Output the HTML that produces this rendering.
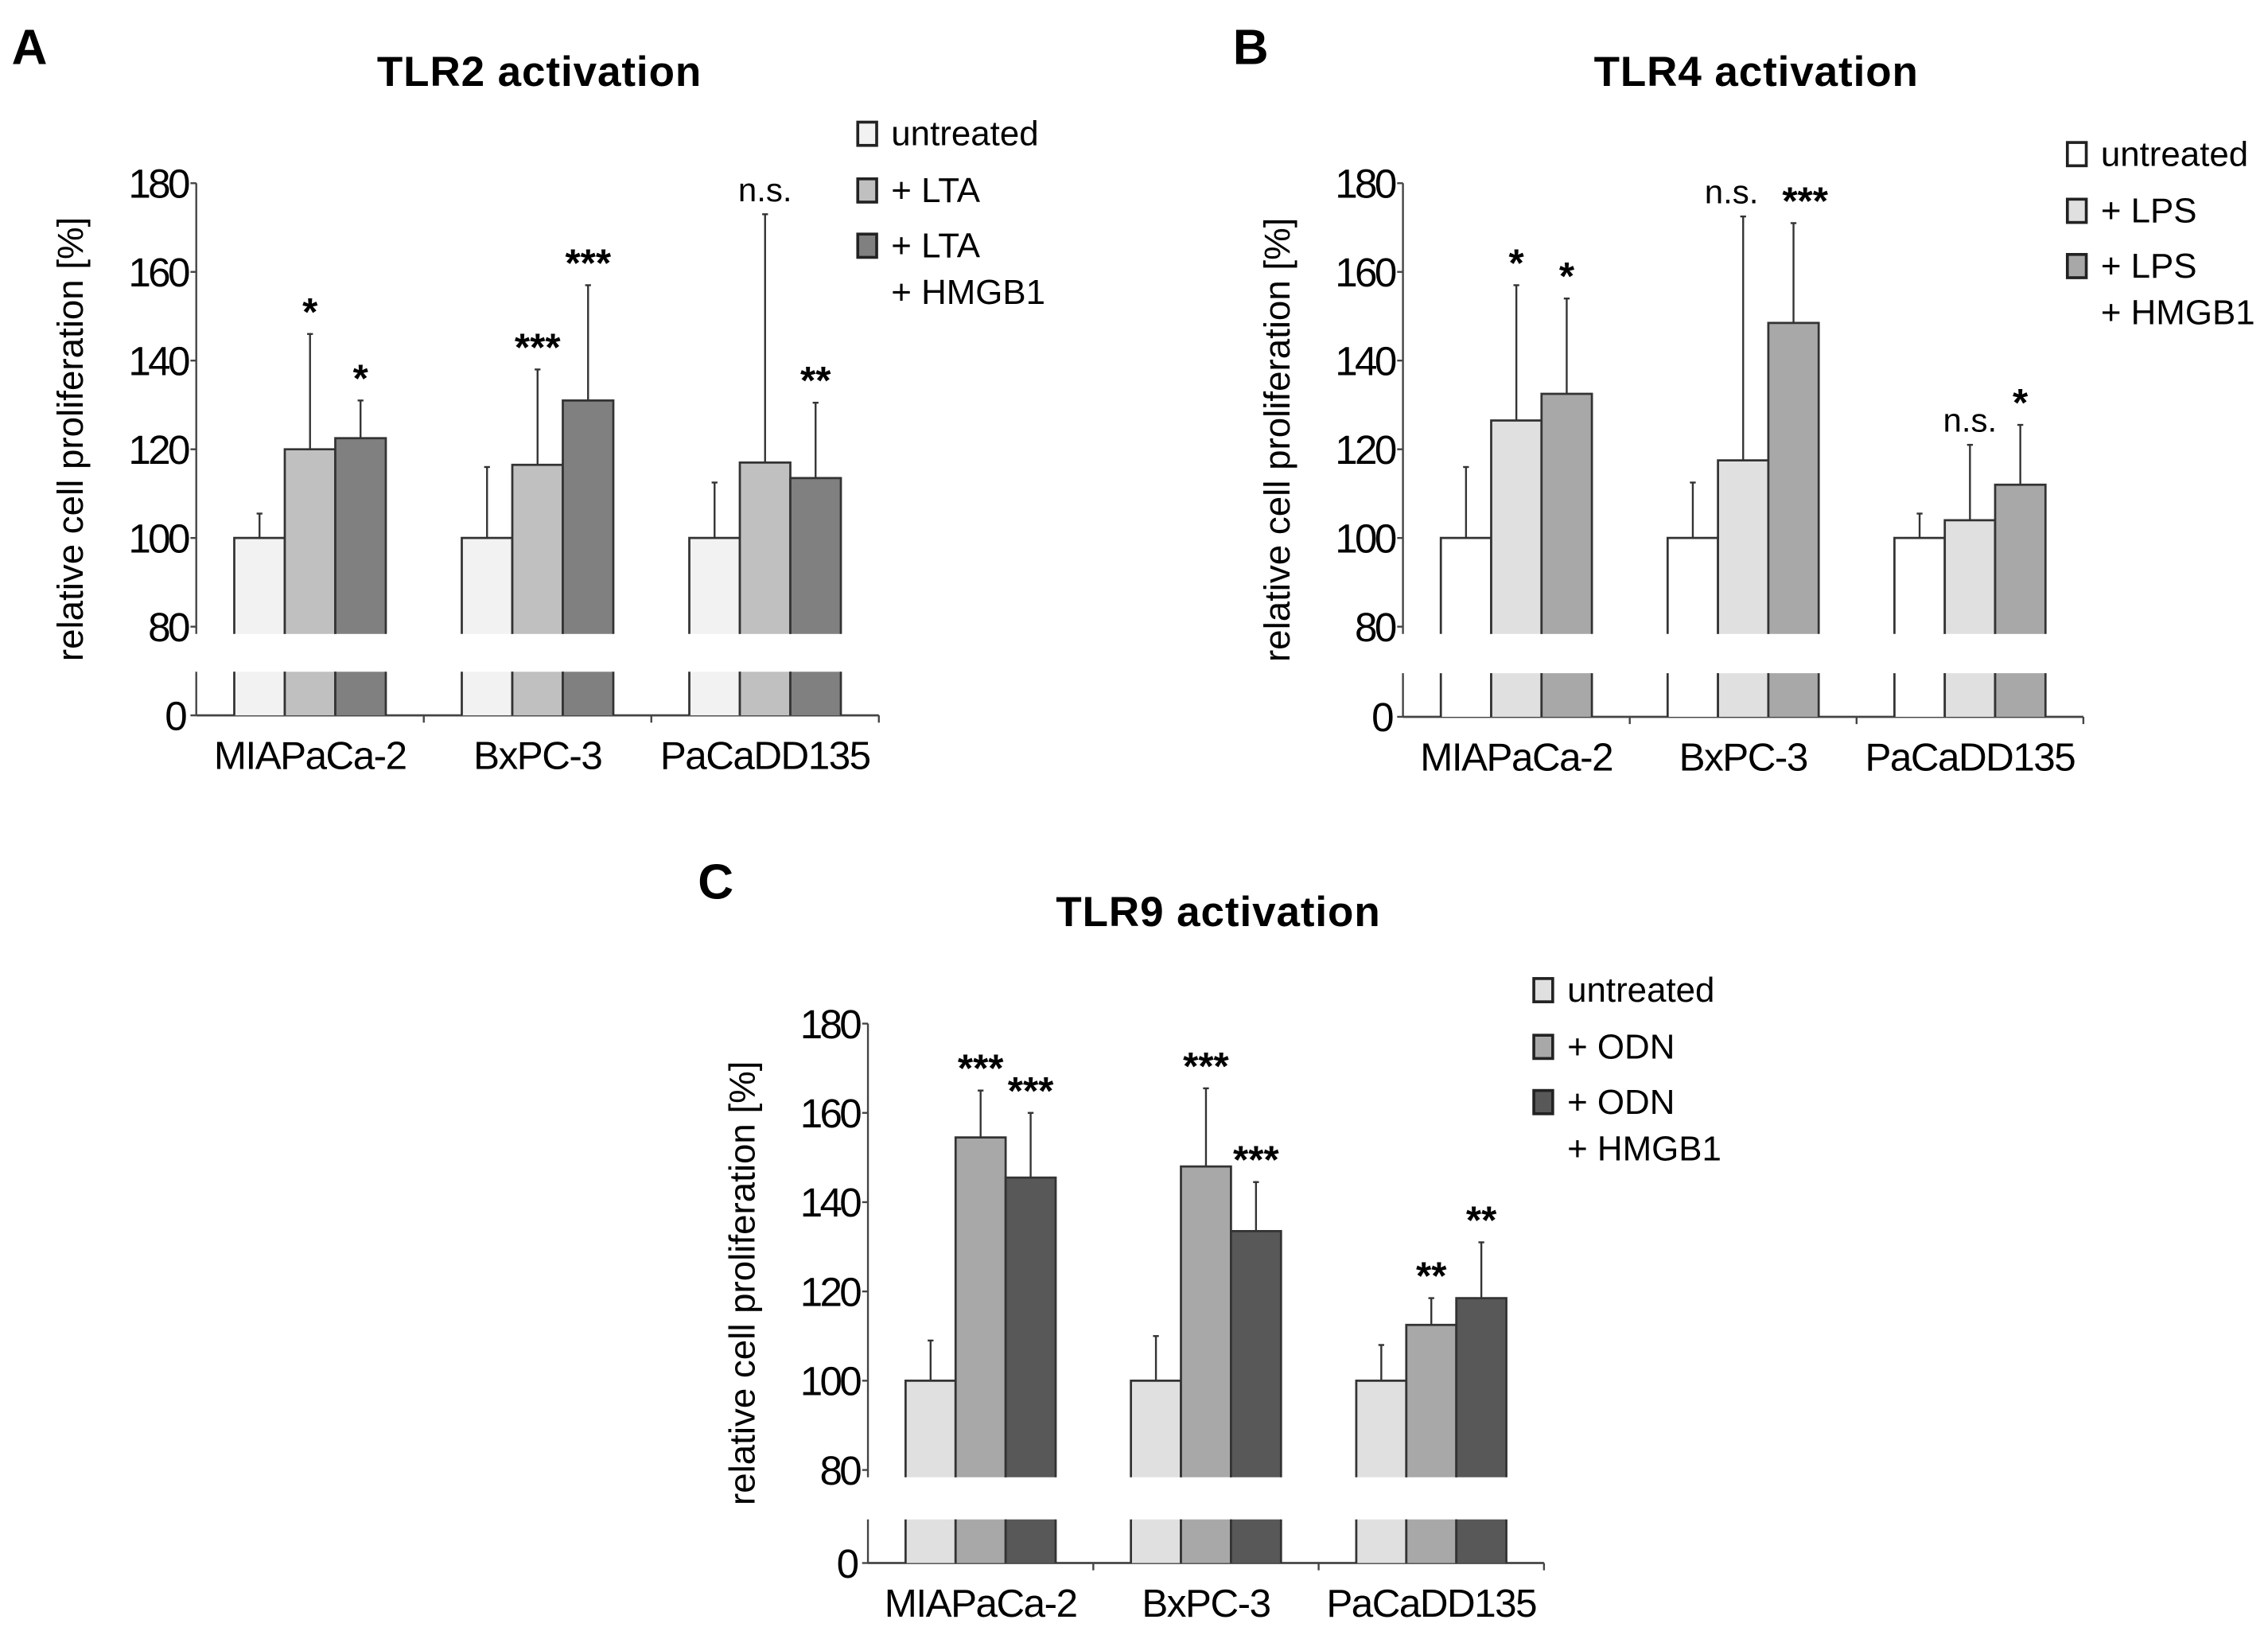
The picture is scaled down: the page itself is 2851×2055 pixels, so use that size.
<!DOCTYPE html>
<html><head><meta charset="utf-8"><style>
html,body{margin:0;padding:0;background:#fff}
svg{display:block}
text{font-family:"Liberation Sans",Arial,sans-serif;fill:#000}
</style></head><body>
<svg id="fig" width="2851" height="2055" viewBox="0 0 1560 1124.5" preserveAspectRatio="none"></svg>
<script>
const categories = ["MIAPaCa-2","BxPC-3","PaCaDD135"];
const tickValues = [80,100,120,140,160,180];
// Panel A
const aSeries = ["untreated","+ LTA","+ LTA|+ HMGB1"];
const aUntreated = [100,100,100];
const aLTA = [120,116.5,117];
const aLTAH = [122.5,131,113.5];
const aErrU = [105.5,116,112.5];
const aErrL = [146,138,173];
const aErrH = [131,157,130.5];
const aSigL = ["*","***","n.s."];
const aSigH = ["*","***","**"];
// Panel B
const bSeries = ["untreated","+ LPS","+ LPS|+ HMGB1"];
const bUntreated = [100,100,100];
const bLPS = [126.5,117.5,104];
const bLPSH = [132.5,148.5,112];
const bErrU = [116,112.5,105.5];
const bErrL = [157,172.5,121];
const bErrH = [154,171,125.5];
const bSigL = ["*","n.s.","n.s."];
const bSigH = ["*","***","*"];
// Panel C
const cSeries = ["untreated","+ ODN","+ ODN|+ HMGB1"];
const cUntreated = [100,100,100];
const cODN = [154.5,148,112.5];
const cODNH = [145.5,133.5,118.5];
const cErrU = [109,110,108];
const cErrO = [165,165.5,118.5];
const cErrH = [160,144.5,131];
const cSigO = ["***","***","**"];
const cSigH = ["***","***","**"];

const NS="http://www.w3.org/2000/svg";
const svg=document.getElementById('fig');
function mk(tag,attrs,parent,txt){const e=document.createElementNS(NS,tag);for(const k in attrs)e.setAttribute(k,attrs[k]);if(txt!==undefined)e.textContent=txt;(parent||svg).appendChild(e);return e;}

function panel(cfg){
  const g=mk('g',{});
  
  
  const ax=cfg.ax, y180=cfg.y180, y80=cfg.y80, y0=cfg.y0, brkTop=y80+5, brkBot=y0-30;
  const yS=v=>y80-(v-80)*(y80-y180)/100;
  const gw=cfg.gw, bw=gw*0.222;
  const stroke='#444';
  const L=mk('text',{x:cfg.lx,y:cfg.ly,'font-size':34,'font-weight':'bold'},g,cfg.letter);
  
  
  const T=mk('text',{x:cfg.tx,y:cfg.ty,'font-size':29,'font-weight':'bold','text-anchor':'middle','letter-spacing':0.5},g,cfg.title);
  
  
  mk('line',{x1:ax,y1:y180,x2:ax,y2:brkTop,stroke:stroke,'stroke-width':1.3},g);
  mk('line',{x1:ax,y1:brkBot,x2:ax,y2:y0,stroke:stroke,'stroke-width':1.3},g);
  tickValues.forEach(v=>{
    const y=yS(v);
    mk('line',{x1:ax-4,y1:y,x2:ax,y2:y,stroke:stroke,'stroke-width':1.3},g);
    const t=mk('text',{x:ax-6,y:y+10,'font-size':28,'text-anchor':'end','letter-spacing':-2},g,String(v));
    
    
  });
  mk('line',{x1:ax-4,y1:y0,x2:ax,y2:y0,stroke:stroke,'stroke-width':1.3},g);
  const z=mk('text',{x:ax-6,y:y0+10,'font-size':28,'text-anchor':'end'},g,'0');
  
  
  const yl=mk('text',{x:0,y:0,'font-size':25,'text-anchor':'middle',transform:`translate(${ax-78},${(y180+y0)/2-7}) rotate(-90)`},g,'relative cell proliferation [%]');
  
  
  const xEnd=ax+gw*3;
  mk('line',{x1:ax,y1:y0,x2:xEnd,y2:y0,stroke:stroke,'stroke-width':1.5},g);
  for(let i=1;i<=3;i++)mk('line',{x1:ax+gw*i,y1:y0,x2:ax+gw*i,y2:y0+5,stroke:stroke,'stroke-width':1.3},g);
  categories.forEach((c,i)=>{
    const t=mk('text',{x:ax+gw*(i+0.5),y:y0+37,'font-size':27,'text-anchor':'middle','letter-spacing':-0.8},g,c);
    
    
  });
  cfg.vals.forEach((arr,s)=>{
    arr.forEach((v,i)=>{
      const x=ax+gw*i+(gw-3*bw)/2+s*bw;
      const top=yS(v);
      const r=mk('rect',{x:x,y:top,width:bw,height:brkTop-top,fill:cfg.colors[s],stroke:'none'},g);
      
      
      mk('rect',{x:x,y:brkBot,width:bw,height:y0-brkBot,fill:cfg.colors[s],stroke:'none'},g);
      mk('path',{d:`M${x},${brkTop}V${top}H${x+bw}V${brkTop}`,fill:'none',stroke:'#333','stroke-width':1.5},g);
      mk('path',{d:`M${x},${y0}V${brkBot}M${x+bw},${y0}V${brkBot}`,fill:'none',stroke:'#333','stroke-width':1.5},g);
      const e=yS(cfg.errs[s][i]);
      const cx=x+bw/2;
      mk('line',{x1:cx,y1:top,x2:cx,y2:e,stroke:'#333','stroke-width':1.3},g);
      mk('line',{x1:cx-2,y1:e,x2:cx+2,y2:e,stroke:'#333','stroke-width':1.3},g);
      if(s>0){
        const lab=cfg.sig[s-1][i];
        const ns=lab==='n.s.';
        const st=mk('text',{x:cx+(cfg.sigDx?cfg.sigDx[s-1][i]:0),y:ns?e-9:e-6,'font-size':ns?23:27,'font-weight':ns?'normal':'bold','text-anchor':'middle'},g,lab);
        
        
      }
    });
  });
  const lg=mk('g',{},g);
  
  
  cfg.series.forEach((s,i)=>{
    const y=cfg.legY[i];
    const sq=mk('rect',{x:cfg.legX,y:y-16,width:13,height:16,fill:cfg.colors[i],stroke:'#222','stroke-width':2},lg);
    
    
    s.split('|').forEach((p,j)=>{
      const t=mk('text',{x:cfg.legX+23,y:y+j*32,'font-size':24},lg,p);
      
      
    });
  });
}

panel({name:'panel-a-tlr2',letter:'A',lx:8,ly:44,title:'TLR2 activation',tx:371,ty:59,
  ax:135,y180:126,y80:431,y0:492,gw:156.5,
  vals:[aUntreated,aLTA,aLTAH],errs:[aErrU,aErrL,aErrH],sig:[aSigL,aSigH],
  colors:['#f2f2f2','#c0c0c0','#808080'],series:aSeries,legX:590,legY:[100,139,177]});
panel({name:'panel-b-tlr4',letter:'B',lx:848,ly:44,title:'TLR4 activation',tx:1208,ty:59,
  ax:965,y180:126,y80:431,y0:493,gw:156,
  vals:[bUntreated,bLPS,bLPSH],errs:[bErrU,bErrL,bErrH],sig:[bSigL,bSigH],
  sigDx:[[0,-8,0],[0,8,0]],
  colors:['#ffffff','#e0e0e0','#a8a8a8'],series:bSeries,legX:1422,legY:[114,153,191]});
panel({name:'panel-c-tlr9',letter:'C',lx:480,ly:618,title:'TLR9 activation',tx:838,ty:637,
  ax:597,y180:704,y80:1011,y0:1075,gw:155,
  vals:[cUntreated,cODN,cODNH],errs:[cErrU,cErrO,cErrH],sig:[cSigO,cSigH],
  colors:['#e0e0e0','#a8a8a8','#585858'],series:cSeries,legX:1055,legY:[689,728,766]});
</script>
</body></html>
